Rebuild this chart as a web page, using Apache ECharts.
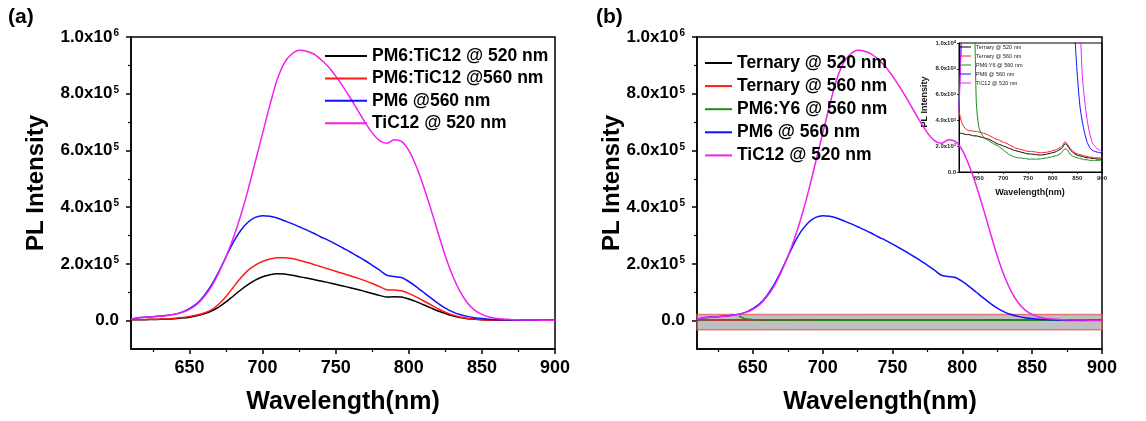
<!DOCTYPE html>
<html>
<head>
<meta charset="utf-8">
<script src="https://cdn.jsdelivr.net/npm/echarts@6/dist/echarts.min.js"></script>
<style>
  html, body { margin: 0; padding: 0; background: #ffffff; }
  #chart { width: 1146px; height: 421px; }
</style>
</head>
<body>
<div id="chart"></div>
<script>
// Emission wavelengths (nm) shared by every spectrum
const wavelength = [
  610, 615, 620, 625, 630, 635, 640, 645, 650, 655,
  660, 665, 670, 675, 680, 685, 690, 695, 700, 705,
  710, 715, 720, 725, 730, 735, 740, 745, 750, 755,
  760, 765, 770, 775, 780, 785, 790, 795, 800, 805,
  810, 815, 820, 825, 830, 835, 840, 845, 850, 855,
  860, 865, 870, 875, 880, 885, 890, 895, 900
];

// Panel (a): PM6:TiC12 blend
const blend520 = [
  3000, 3200, 3500, 4000, 4500, 5500, 7000, 9000, 12000, 17000,
  24000, 34000, 48000, 66000, 87000, 108000, 127000, 143000, 155000, 162000,
  165000, 164000, 160000, 155000, 150000, 145000, 140000, 134000, 128000, 122000,
  116000, 110000, 103000, 96000, 89000, 83000, 84000, 83000, 76000, 67000,
  56000, 45000, 34000, 25000, 17000, 11000, 7000, 4500, 3000, 2200,
  1800, 1500, 1400, 1300, 1300, 1200, 1200, 1200, 1200
];
const blend560 = [
  3500, 3800, 4200, 4800, 5500, 6800, 8500, 11000, 15000, 20000,
  27000, 38000, 58000, 85000, 118000, 150000, 177000, 196000, 209000, 217000,
  222000, 222000, 219000, 213000, 206000, 198000, 190000, 182000, 174000, 166000,
  158000, 150000, 141000, 131000, 120000, 109000, 108000, 105000, 96000, 84000,
  70000, 56000, 42000, 30000, 20000, 13000, 8500, 5500, 3500, 2500,
  2000, 1700, 1500, 1400, 1400, 1300, 1300, 1300, 1300
];

// Neat films (both panels)
const pm6560 = [
  5000, 10500, 12500, 14000, 16000, 19000, 23000, 30000, 42000, 60000,
  88000, 125000, 172000, 225000, 277000, 318000, 347000, 364000, 370000, 368000,
  362000, 352000, 342000, 331000, 320000, 308000, 295000, 283000, 270000, 256000,
  242000, 227000, 212000, 195000, 178000, 160000, 156000, 152000, 138000, 120000,
  100000, 80000, 61000, 44000, 31000, 21500, 15000, 10500, 7500, 5200,
  3900, 3000, 2300, 1900, 1700, 1600, 1550, 1500, 1500
];
const tic12520 = [
  4500, 10000, 12000, 13500, 15500, 18500, 22500, 29000, 40000, 57000,
  84000, 120000, 168000, 225000, 292000, 370000, 460000, 560000, 660000, 760000,
  850000, 910000, 940000, 953000, 950000, 940000, 920000, 895000, 862000, 825000,
  785000, 742000, 700000, 662000, 635000, 625000, 638000, 632000, 600000, 545000,
  475000, 395000, 310000, 228000, 158000, 103000, 63000, 37000, 22000, 12500,
  7500, 5500, 4000, 3000, 2300, 2000, 1800, 1700, 1600
];

// Panel (b): ternary and PM6:Y6 films (strongly quenched)
const ternary520 = [
  3000, 3000, 2950, 2900, 2900, 2850, 2800, 2800, 2750, 2700,
  2650, 2600, 2550, 2450, 2350, 2250, 2150, 2100, 2000, 1950,
  1850, 1800, 1700, 1650, 1600, 1550, 1500, 1450, 1400, 1400,
  1380, 1350, 1330, 1320, 1330, 1360, 1400, 1450, 1500, 1550,
  1650, 1750, 1900, 2200, 2050, 1750, 1550, 1400, 1300, 1250,
  1200, 1150, 1100, 1100, 1050, 1050, 1000, 1000, 1000
];
const ternary560 = [
  4700, 3900, 3500, 3300, 3200, 3200, 3150, 3150, 3100, 3050,
  3000, 2950, 2850, 2750, 2650, 2550, 2500, 2400, 2300, 2250,
  2150, 2050, 1950, 1850, 1800, 1750, 1700, 1650, 1600, 1600,
  1580, 1550, 1520, 1500, 1500, 1520, 1550, 1600, 1650, 1700,
  1800, 1900, 2050, 2350, 2150, 1850, 1650, 1500, 1400, 1350,
  1300, 1250, 1200, 1150, 1150, 1100, 1100, 1100, 1100
];
const pm6y6560 = [
  null, null, null, null, null, null, 16000, 5500, 3500, 3000,
  2700, 2550, 2450, 2300, 2200, 2100, 2000, 1850, 1700, 1550,
  1400, 1300, 1200, 1150, 1100, 1100, 1050, 1050, 1000, 1000,
  1000, 1000, 1000, 1020, 1050, 1080, 1100, 1150, 1200, 1250,
  1300, 1400, 1600, 1800, 1700, 1400, 1250, 1150, 1100, 1050,
  1000, 950, 950, 900, 900, 900, 900, 900, 900
];

// Highlighted low-intensity band in panel (b), enlarged in the inset
const bandRange = [-32000, 22000];

// Axis ticks and labels
const xTickValues = [650, 700, 750, 800, 850, 900];
const xMinorTicks = [625, 675, 725, 775, 825, 875];
const yTickValues = [0, 200000, 400000, 600000, 800000, 1000000];
const yMinorTicks = [100000, 300000, 500000, 700000, 900000];
const yTickMantissa = ['0.0', '2.0', '4.0', '6.0', '8.0', '1.0'];
const yTickExponent = ['', '5', '5', '5', '5', '6'];
const insetYTickValues = [0, 2000, 4000, 6000, 8000, 10000];
const insetYTickExponent = ['', '3', '3', '3', '3', '4'];

const FONT = '"Liberation Sans", Arial, Helvetica, sans-serif';

function pairs(values) {
  const out = [];
  for (let i = 0; i < wavelength.length; i++) {
    if (values[i] !== null) out.push([wavelength[i], values[i]]);
  }
  return out;
}

function sciFormatter(tickValues, exponents, mantissa) {
  return function (v) {
    const i = tickValues.findIndex(t => Math.abs(t - v) < 1e-6);
    if (i < 0) return '';
    return exponents[i] ? '{m|' + mantissa[i] + 'x10}{e|' + exponents[i] + '}' : '{m|' + mantissa[i] + '}';
  };
}

const axisLine = { show: true, onZero: false, lineStyle: { color: '#000', width: 1.5 } };

function mainX(gridIndex) {
  return [
    {
      type: 'value', gridIndex: gridIndex, position: 'bottom', min: 610, max: 900,
      axisLine: axisLine,
      axisTick: { show: true, inside: false, length: 5, customValues: xTickValues, lineStyle: { color: '#000', width: 1.5 } },
      axisLabel: { show: true, customValues: xTickValues, margin: 10, color: '#000', fontSize: 18, fontWeight: 'bold', fontFamily: FONT },
      splitLine: { show: false }
    },
    {
      type: 'value', gridIndex: gridIndex, position: 'bottom', min: 610, max: 900,
      axisLine: { show: false, onZero: false },
      axisTick: { show: true, inside: false, length: 3, customValues: xMinorTicks, lineStyle: { color: '#000', width: 1.2 } },
      axisLabel: { show: false },
      splitLine: { show: false }
    }
  ];
}

function mainY(gridIndex) {
  return [
    {
      type: 'value', gridIndex: gridIndex, position: 'left', min: -100000, max: 1000000,
      axisLine: axisLine,
      axisTick: { show: true, inside: false, length: 5, customValues: yTickValues, lineStyle: { color: '#000', width: 1.5 } },
      axisLabel: {
        show: true, customValues: yTickValues, margin: 12, color: '#000',
        formatter: sciFormatter(yTickValues, yTickExponent, yTickMantissa),
        rich: {
          m: { fontSize: 17, fontWeight: 'bold', fontFamily: FONT, color: '#000' },
          e: { fontSize: 10, fontWeight: 'bold', fontFamily: FONT, color: '#000', verticalAlign: 'top', padding: [0, 0, 6, 1] }
        }
      },
      splitLine: { show: false }
    },
    {
      type: 'value', gridIndex: gridIndex, position: 'left', min: -100000, max: 1000000,
      axisLine: { show: false, onZero: false },
      axisTick: { show: true, inside: false, length: 3, customValues: yMinorTicks, lineStyle: { color: '#000', width: 1.2 } },
      axisLabel: { show: false },
      splitLine: { show: false }
    }
  ];
}

const lineSeries = (name, values, color, xi, yi, width) => ({
  name: name, type: 'line', xAxisIndex: xi, yAxisIndex: yi,
  data: pairs(values), showSymbol: false, symbol: 'none', smooth: 0.25,
  lineStyle: { color: color, width: width }, itemStyle: { color: color },
  clip: true, animation: false
});

const BLACK = '#000000', RED = '#ff1a1a', BLUE = '#1010ff', MAGENTA = '#f020f0', GREEN = '#1c8a1c';

const chart = echarts.init(document.getElementById('chart'), null, { renderer: 'canvas' });

const option = {
  backgroundColor: '#ffffff',
  animation: false,
  grid: [
    { left: 131, right: 591, top: 37, bottom: 72, show: true, borderColor: '#000', borderWidth: 1.5, backgroundColor: 'transparent', containLabel: false },
    { left: 697, right: 44, top: 37, bottom: 72, show: true, borderColor: '#000', borderWidth: 1.5, backgroundColor: 'transparent', containLabel: false },
    { left: 959, right: 44, top: 43, bottom: 249, show: true, borderColor: '#000', borderWidth: 1, backgroundColor: 'transparent', containLabel: false }
  ],
  xAxis: [
    ...mainX(0),
    ...mainX(1),
    {
      type: 'value', gridIndex: 2, position: 'bottom', min: 610, max: 900,
      axisLine: { show: true, onZero: false, lineStyle: { color: '#000', width: 1 } },
      axisTick: { show: true, inside: false, length: 2, customValues: xTickValues, lineStyle: { color: '#000', width: 0.8 } },
      axisLabel: { show: true, customValues: xTickValues, margin: 3, color: '#222', fontSize: 6, fontWeight: 'bold', fontFamily: FONT },
      splitLine: { show: false }
    }
  ],
  yAxis: [
    ...mainY(0),
    ...mainY(1),
    {
      type: 'value', gridIndex: 2, position: 'left', min: 0, max: 10000,
      axisLine: { show: true, onZero: false, lineStyle: { color: '#000', width: 1 } },
      axisTick: { show: true, inside: false, length: 2, customValues: insetYTickValues, lineStyle: { color: '#000', width: 0.8 } },
      axisLabel: {
        show: true, customValues: insetYTickValues, margin: 3, color: '#222',
        formatter: sciFormatter(insetYTickValues, insetYTickExponent, yTickMantissa),
        rich: {
          m: { fontSize: 6, fontWeight: 'bold', fontFamily: FONT, color: '#222' },
          e: { fontSize: 4, fontWeight: 'bold', fontFamily: FONT, color: '#222', verticalAlign: 'top', padding: [0, 0, 2, 0] }
        }
      },
      splitLine: { show: false }
    }
  ],
  legend: [
    {
      data: ['PM6:TiC12 @ 520 nm', 'PM6:TiC12 @560 nm', 'PM6 @560 nm', 'TiC12 @ 520 nm'],
      orient: 'vertical', left: 325, top: 47, icon: 'rect', itemWidth: 42, itemHeight: 2, itemGap: 4.4,
      selectedMode: false, padding: 0,
      textStyle: { fontSize: 17.5, fontWeight: 'bold', color: '#000', fontFamily: FONT, lineHeight: 18 }
    },
    {
      data: ['Ternary @ 520 nm', 'Ternary @ 560 nm', 'PM6:Y6 @ 560 nm', 'PM6 @ 560 nm', 'TiC12 @ 520 nm'],
      orient: 'vertical', left: 705, top: 54, icon: 'rect', itemWidth: 27, itemHeight: 2, itemGap: 5.1,
      selectedMode: false, padding: 0,
      textStyle: { fontSize: 17.5, fontWeight: 'bold', color: '#000', fontFamily: FONT, lineHeight: 18 }
    },
    {
      data: ['Ternary @ 520 nm', 'Ternary @ 560 nm', 'PM6:Y6 @ 560 nm', 'PM6 @ 560 nm', 'TiC12 @ 520 nm'],
      orient: 'vertical', left: 960, top: 44, icon: 'rect', itemWidth: 11, itemHeight: 1, itemGap: 3,
      selectedMode: false, padding: 0,
      textStyle: { fontSize: 5.5, color: '#222', fontFamily: FONT, lineHeight: 6 }
    }
  ],
  series: [
    // Panel (a)
    lineSeries('PM6:TiC12 @ 520 nm', blend520, BLACK, 0, 0, 1.5),
    lineSeries('PM6:TiC12 @560 nm', blend560, RED, 0, 0, 1.5),
    lineSeries('PM6 @560 nm', pm6560, BLUE, 0, 0, 1.5),
    lineSeries('TiC12 @ 520 nm', tic12520, MAGENTA, 0, 0, 1.5),
    // Panel (b)
    Object.assign(lineSeries('Ternary @ 520 nm', ternary520, BLACK, 2, 2, 1.5), {
      markArea: {
        silent: true,
        itemStyle: { color: 'rgba(150,150,150,0.6)', borderColor: 'rgba(225,90,90,0.75)', borderWidth: 1.5 },
        data: [[{ yAxis: bandRange[1] }, { yAxis: bandRange[0] }]]
      }
    }),
    lineSeries('Ternary @ 560 nm', ternary560, RED, 2, 2, 1.5),
    lineSeries('PM6:Y6 @ 560 nm', pm6y6560, GREEN, 2, 2, 1.5),
    lineSeries('PM6 @ 560 nm', pm6560, BLUE, 2, 2, 1.5),
    lineSeries('TiC12 @ 520 nm', tic12520, MAGENTA, 2, 2, 1.5),
    // Inset: low-intensity tails of panel (b)
    lineSeries('Ternary @ 520 nm', ternary520, BLACK, 4, 4, 1),
    lineSeries('Ternary @ 560 nm', ternary560, RED, 4, 4, 1),
    lineSeries('PM6:Y6 @ 560 nm', pm6y6560, GREEN, 4, 4, 1),
    lineSeries('PM6 @ 560 nm', pm6560, BLUE, 4, 4, 1),
    lineSeries('TiC12 @ 520 nm', tic12520, MAGENTA, 4, 4, 1)
  ],
  graphic: [
    { type: 'text', left: 8, top: 7, style: { text: '(a)', fontSize: 21, fontWeight: 'bold', fontFamily: FONT, fill: '#000' } },
    { type: 'text', left: 596, top: 7, style: { text: '(b)', fontSize: 21, fontWeight: 'bold', fontFamily: FONT, fill: '#000' } },
    { type: 'text', x: 36, y: 183, rotation: Math.PI / 2, style: { text: 'PL Intensity', fontSize: 24, fontWeight: 'bold', fontFamily: FONT, fill: '#000', align: 'center', verticalAlign: 'middle' } },
    { type: 'text', x: 612, y: 183, rotation: Math.PI / 2, style: { text: 'PL Intensity', fontSize: 24, fontWeight: 'bold', fontFamily: FONT, fill: '#000', align: 'center', verticalAlign: 'middle' } },
    { type: 'text', x: 343, y: 402, style: { text: 'Wavelength(nm)', fontSize: 25, fontWeight: 'bold', fontFamily: FONT, fill: '#000', align: 'center', verticalAlign: 'middle' } },
    { type: 'text', x: 880, y: 402, style: { text: 'Wavelength(nm)', fontSize: 25, fontWeight: 'bold', fontFamily: FONT, fill: '#000', align: 'center', verticalAlign: 'middle' } },
    { type: 'text', x: 925, y: 102, rotation: Math.PI / 2, style: { text: 'PL Intensity', fontSize: 9, fontWeight: 'bold', fontFamily: FONT, fill: '#111', align: 'center', verticalAlign: 'middle' } },
    { type: 'text', x: 1030, y: 193, style: { text: 'Wavelength(nm)', fontSize: 9, fontWeight: 'bold', fontFamily: FONT, fill: '#111', align: 'center', verticalAlign: 'middle' } }
  ]
};

chart.setOption(option);
</script>
</body>
</html>
